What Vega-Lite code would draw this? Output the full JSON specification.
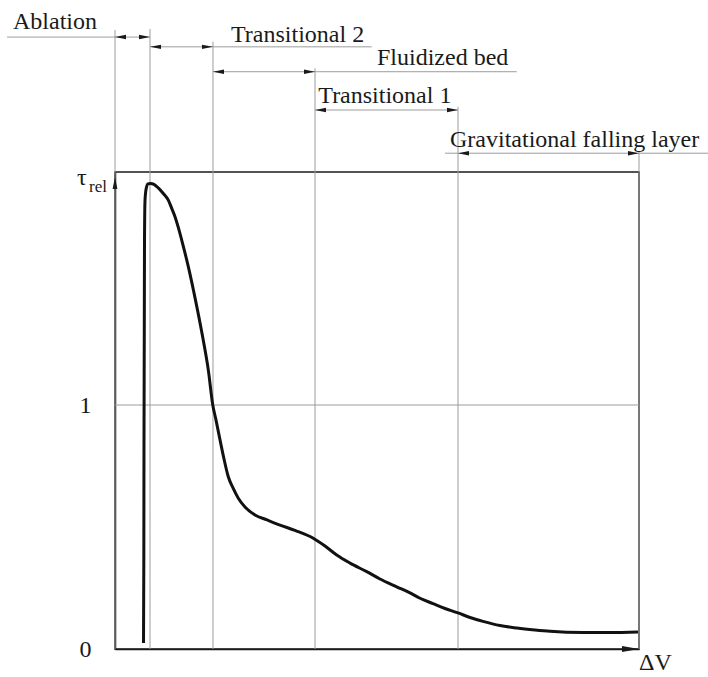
{
  "$schema": "https://vega.github.io/schema/vega-lite/v6.json",
  "width": 524,
  "height": 477,
  "autosize": {"type": "none"},
  "padding": {"left": 115, "top": 172, "right": 69, "bottom": 28},
  "background": "white",
  "config": {
    "view": {"stroke": "#1a1a1a", "strokeWidth": 1.5},
    "font": "Liberation Serif, Times New Roman, DejaVu Serif, serif",
    "axis": {"domainColor": "#1a1a1a", "domainWidth": 1.5, "grid": false, "ticks": false}
  },
  "datasets": {
    "curve": [
      {"dv": 5.44, "tau": 0.025}, {"dv": 5.50, "tau": 0.365}, {"dv": 5.53, "tau": 0.816},
      {"dv": 5.59, "tau": 1.307}, {"dv": 5.63, "tau": 1.676}, {"dv": 5.73, "tau": 1.840},
      {"dv": 5.97, "tau": 1.889}, {"dv": 6.30, "tau": 1.906}, {"dv": 6.77, "tau": 1.908},
      {"dv": 7.44, "tau": 1.904}, {"dv": 8.30, "tau": 1.889}, {"dv": 9.22, "tau": 1.867},
      {"dv": 10.17, "tau": 1.840}, {"dv": 10.88, "tau": 1.803}, {"dv": 11.45, "tau": 1.772},
      {"dv": 12.12, "tau": 1.725}, {"dv": 12.73, "tau": 1.676}, {"dv": 13.99, "tau": 1.567},
      {"dv": 15.36, "tau": 1.430}, {"dv": 16.60, "tau": 1.294}, {"dv": 17.81, "tau": 1.143},
      {"dv": 18.66, "tau": 1.0}, {"dv": 19.27, "tau": 0.939}, {"dv": 20.04, "tau": 0.857},
      {"dv": 20.80, "tau": 0.779}, {"dv": 21.62, "tau": 0.706}, {"dv": 22.52, "tau": 0.660},
      {"dv": 23.53, "tau": 0.618}, {"dv": 24.81, "tau": 0.582}, {"dv": 26.72, "tau": 0.549},
      {"dv": 29.01, "tau": 0.529}, {"dv": 31.49, "tau": 0.508}, {"dv": 34.35, "tau": 0.486},
      {"dv": 37.84, "tau": 0.454}, {"dv": 40.08, "tau": 0.422}, {"dv": 42.31, "tau": 0.385},
      {"dv": 44.85, "tau": 0.352}, {"dv": 48.04, "tau": 0.317}, {"dv": 50.57, "tau": 0.287},
      {"dv": 53.76, "tau": 0.255}, {"dv": 56.30, "tau": 0.230}, {"dv": 58.21, "tau": 0.208},
      {"dv": 60.69, "tau": 0.186}, {"dv": 62.98, "tau": 0.166}, {"dv": 65.46, "tau": 0.148},
      {"dv": 67.75, "tau": 0.129}, {"dv": 70.23, "tau": 0.113}, {"dv": 73.47, "tau": 0.096},
      {"dv": 76.72, "tau": 0.086}, {"dv": 80.15, "tau": 0.078}, {"dv": 83.02, "tau": 0.0725},
      {"dv": 89.31, "tau": 0.0676}, {"dv": 94.47, "tau": 0.0676}, {"dv": 99.81, "tau": 0.0697}
    ],
    "vlines": [
      {"dv": 0, "tau": 0, "tau2": 2.537},
      {"dv": 6.68, "tau": 0, "tau2": 2.541},
      {"dv": 18.7, "tau": 0, "tau2": 2.489},
      {"dv": 38.17, "tau": 0, "tau2": 2.38},
      {"dv": 65.46, "tau": 0, "tau2": 2.222},
      {"dv": 100, "tau": 0, "tau2": 2.039}
    ],
    "hlines": [
      {"tau": 1, "dv": 0, "dv2": 100},
      {"tau": 2.508, "dv": -20.6, "dv2": 6.68},
      {"tau": 2.468, "dv": 6.68, "dv2": 49.0},
      {"tau": 2.366, "dv": 18.7, "dv2": 76.66},
      {"tau": 2.209, "dv": 38.17, "dv2": 65.46},
      {"tau": 2.032, "dv": 62.98, "dv2": 113.2}
    ],
    "arrowsL": [
      {"dv": 0, "tau": 2.508}, {"dv": 6.68, "tau": 2.468}, {"dv": 18.7, "tau": 2.366},
      {"dv": 38.17, "tau": 2.209}, {"dv": 65.46, "tau": 2.032}
    ],
    "arrowsR": [
      {"dv": 6.68, "tau": 2.508}, {"dv": 18.7, "tau": 2.468}, {"dv": 38.17, "tau": 2.366},
      {"dv": 65.46, "tau": 2.209}, {"dv": 100, "tau": 2.032}
    ],
    "axisUp": [{"dv": 0, "tau": 1.934}],
    "axisRight": [{"dv": 100, "tau": 0}],
    "labels": [
      {"dv": -19.47, "tau": 2.541, "label": "Ablation"},
      {"dv": 22.14, "tau": 2.489, "label": "Transitional 2"},
      {"dv": 50.0, "tau": 2.393, "label": "Fluidized bed"},
      {"dv": 38.8, "tau": 2.236, "label": "Transitional 1"},
      {"dv": 63.93, "tau": 2.059, "label": "Gravitational falling layer"},
      {"dv": -7.25, "tau": 1.902, "label": "τ"},
      {"dv": 100, "tau": -0.088, "label": "ΔV"}
    ],
    "sub": [
      {"dv": -4.96, "tau": 1.873, "label": "rel"}
    ]
  },
  "encoding": {
    "x": {"field": "dv", "type": "quantitative", "title": null,
          "scale": {"domain": [0, 100], "nice": false, "zero": false},
          "axis": {"labels": false, "ticks": false, "grid": false}},
    "y": {"field": "tau", "type": "quantitative", "title": null,
          "scale": {"domain": [0, 1.955], "nice": false, "zero": false},
          "axis": {"values": [0, 1], "ticks": false, "grid": false, "labelPadding": 24,
                   "labelFont": "Liberation Serif, Times New Roman, DejaVu Serif, serif", "labelFontSize": 24, "labelColor": "#1a1a1a"}}
  },
  "layer": [
    {"data": {"name": "vlines"}, "mark": {"type": "rule", "color": "#9c9c9c", "strokeWidth": 1},
     "encoding": {"y2": {"field": "tau2"}}},
    {"data": {"name": "hlines"}, "mark": {"type": "rule", "color": "#9c9c9c", "strokeWidth": 1},
     "encoding": {"x2": {"field": "dv2"}}},
    {"data": {"name": "arrowsL"},
     "mark": {"type": "point", "shape": "M0,0L2,-0.4L2,0.4Z", "size": 121, "filled": true, "color": "#1a1a1a", "opacity": 1}},
    {"data": {"name": "arrowsR"},
     "mark": {"type": "point", "shape": "M0,0L-2,-0.4L-2,0.4Z", "size": 121, "filled": true, "color": "#1a1a1a", "opacity": 1}},
    {"data": {"name": "axisUp"},
     "mark": {"type": "point", "shape": "M0,0L-0.4,2L0.4,2Z", "size": 144, "filled": true, "color": "#1a1a1a", "opacity": 1}},
    {"data": {"name": "axisRight"},
     "mark": {"type": "point", "shape": "M0,0L-2,-0.35L-2,0.35Z", "size": 289, "filled": true, "color": "#1a1a1a", "opacity": 1}},
    {"data": {"name": "curve"},
     "mark": {"type": "line", "color": "#111111", "strokeWidth": 3, "interpolate": "monotone"}},
    {"data": {"name": "labels"},
     "mark": {"type": "text", "align": "left", "baseline": "alphabetic", "font": "Liberation Serif, Times New Roman, DejaVu Serif, serif", "fontSize": 24, "color": "#1a1a1a"},
     "encoding": {"text": {"field": "label"}}},
    {"data": {"name": "sub"},
     "mark": {"type": "text", "align": "left", "baseline": "alphabetic", "font": "Liberation Serif, Times New Roman, DejaVu Serif, serif", "fontSize": 17, "color": "#1a1a1a"},
     "encoding": {"text": {"field": "label"}}}
  ]
}
